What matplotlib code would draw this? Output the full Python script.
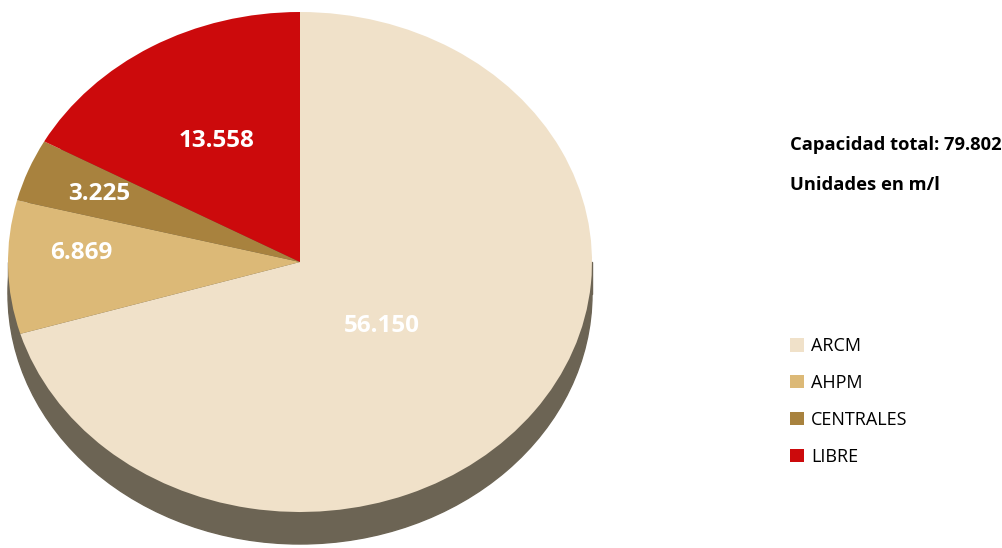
import numpy as np
import matplotlib
matplotlib.use("Agg")
import matplotlib.pyplot as plt
from matplotlib.patches import Ellipse, Rectangle

categories = ["ARCM", "AHPM", "CENTRALES", "LIBRE"]
values = [56150, 6869, 3225, 13558]
value_labels = ["56.150", "6.869", "3.225", "13.558"]
colors = ["#f0e1c9", "#dcb977", "#a8823e", "#cc0a0c"]
title_lines = ["Capacidad total: 79.802", "Unidades en m/l"]

W, H = 1002, 548
fig = plt.figure(figsize=(W / 100, H / 100), dpi=100)
fig.patch.set_facecolor("white")

# pie face: x 8..592, y 12..512 (pixels from top)
ax = fig.add_axes([8 / W, (H - 512) / H, 584 / W, 500 / H])
depth = 32 / 250  # side thickness in data units

# cylinder side, drawn behind the face
side = "#6c6454"
ax.add_patch(Ellipse((0, -depth), 2, 2, color=side, clip_on=False, zorder=0))
ax.add_patch(Rectangle((-1, -depth), 2, depth, color=side, clip_on=False, zorder=0))

wedges, _ = ax.pie(values, colors=colors, startangle=90, counterclock=False,
                   radius=1, wedgeprops=dict(linewidth=0, zorder=1))
ax.set_aspect("auto")
ax.set_xlim(-1, 1)
ax.set_ylim(-1, 1)
ax.axis("off")

# labels inside wedges: (radius fraction, angle tweak in degrees)
label_pos = [(0.38, -6), (0.75, -4), (0.74, 0), (0.56, 0)]
for w, lab, (r, da) in zip(wedges, value_labels, label_pos):
    mid = np.deg2rad((w.theta1 + w.theta2) / 2 + da)
    ax.text(r * np.cos(mid), r * np.sin(mid), lab, ha="center", va="center",
            color="white", fontsize=17.5, fontweight="bold", family="Open Sans",
            zorder=3)

fig.text(790 / W, 1 - 145 / H, title_lines[0], ha="left", va="center",
         fontsize=13.2, fontweight="bold", family="Open Sans", color="black")
fig.text(790 / W, 1 - 185 / H, title_lines[1], ha="left", va="center",
         fontsize=13.2, fontweight="bold", family="Open Sans", color="black")

fig.legend(wedges, categories, loc="upper left",
           bbox_to_anchor=(783 / W, 1 - 330 / H), frameon=False,
           prop=dict(family="Open Sans", size=13),
           handlelength=0.75, handleheight=0.75, handletextpad=0.4,
           labelspacing=1.05, borderaxespad=0)

fig.savefig("out.png", dpi=100)
